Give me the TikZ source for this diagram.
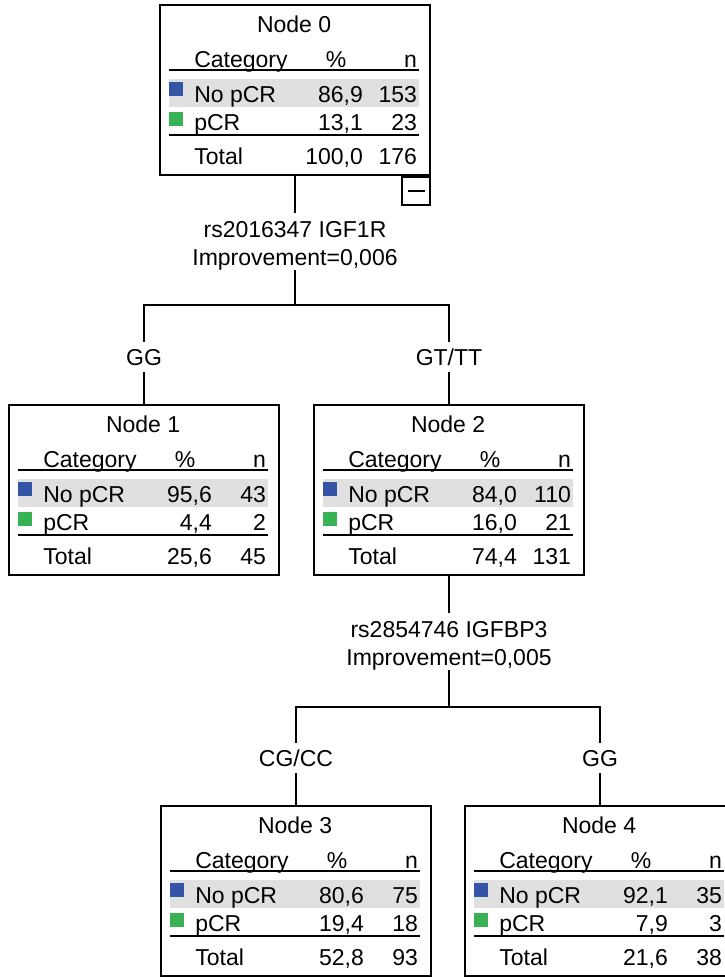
\documentclass[tikz,border=0pt]{standalone}
\usepackage{fontspec}
\setmainfont{Liberation Sans}
\usetikzlibrary{positioning}
\definecolor{catblue}{RGB}{52,84,168}
\definecolor{catgreen}{RGB}{56,178,84}
\definecolor{rowgray}{RGB}{224,224,224}
\tikzset{
  treebox/.style={draw,line width=1.8pt,minimum width=270pt,minimum height=170pt,inner sep=0pt},
  cell/.style={inner sep=0pt,text height=16.5pt,text depth=0pt},
  rule/.style={line width=1.6pt},
  link/.style={line width=1.8pt},
  splitlabel/.style={align=center,inner sep=0pt},
  branch/.style={inner xsep=0pt,inner ysep=7pt,text height=16.5pt,text depth=0pt}
}
\newcommand{\cattable}[8]{%
  \begin{scope}[shift={(#1.north west)}]
    \fill[rowgray] (10,75) rectangle (260,103);
    \fill[catblue] (10,78) rectangle (24,92);
    \fill[catgreen] (10,108) rectangle (24,122);
    \path[draw,rule] (10,66) -- (260,66) (10,131) -- (260,131);
    \node[cell] (#1-title) at (135,20) {#2};
    \node[cell,anchor=west] (#1-cat) at (35,55) {Category};
    \node[cell] (#1-pct) at (177,55) {\%};
    \node[cell,anchor=east] (#1-n) at (258,55) {n};
    \node[cell,anchor=west] (#1-no) at (35,90) {No pCR};
    \node[cell,anchor=east] (#1-nop) at (204,90) {#3};
    \node[cell,anchor=east] (#1-non) at (258,90) {#4};
    \node[cell,anchor=west] (#1-yes) at (35,118) {pCR};
    \node[cell,anchor=east] (#1-yesp) at (204,118) {#5};
    \node[cell,anchor=east] (#1-yesn) at (258,118) {#6};
    \node[cell,anchor=west] (#1-tot) at (35,152) {Total};
    \node[cell,anchor=east] (#1-totp) at (204,152) {#7};
    \node[cell,anchor=east] (#1-totn) at (258,152) {#8};
  \end{scope}}

\begin{document}
\begin{tikzpicture}[x=1pt,y=-1pt,font=\fontsize{23}{27.5}\selectfont]
  \useasboundingbox (0,0) rectangle (725,977);
  % tree nodes
  \node[treebox] (n0) at (295,90) {};
  \node[treebox] (n1) at (144,490) {};
  \node[treebox] (n2) at (449,490) {};
  \node[treebox] (n3) at (296,891) {};
  \node[treebox] (n4) at (600,891) {};
  \cattable{n0}{Node 0}{86,9}{153}{13,1}{23}{100,0}{176}
  \cattable{n1}{Node 1}{95,6}{43}{4,4}{2}{25,6}{45}
  \cattable{n2}{Node 2}{84,0}{110}{16,0}{21}{74,4}{131}
  \cattable{n3}{Node 3}{80,6}{75}{19,4}{18}{52,8}{93}
  \cattable{n4}{Node 4}{92,1}{35}{7,9}{3}{21,6}{38}
  \node[draw,line width=1.8pt,minimum size=28pt,inner sep=0pt,anchor=north east]
    (n0-tog) at (n0.south east) {};
  \draw[rule] ([xshift=-8.5pt]n0-tog.center) -- ([xshift=8.5pt]n0-tog.center);
  % splits
  \node[splitlabel] (s0) at (295,246) {rs2016347 IGF1R\\Improvement=0,006};
  \node[splitlabel] (s1) at (449,646) {rs2854746 IGFBP3\\Improvement=0,005};
  \coordinate (j0) at (295,305);
  \coordinate (j1) at (449,707);
  \node[branch] (g1) at (144,357) {GG};
  \node[branch] (g2) at (449,357) {GT/TT};
  \node[branch] (c1) at (296,758) {CG/CC};
  \node[branch] (c2) at (600,758) {GG};
  % --
  \draw[link] (n0.south) -- ([yshift=9pt]s0.north);
  \draw[link] (s0.south) -- (j0) -| (g1.north);
  \draw[link] (j0) -| (g2.north);
  \draw[link] (g1.south) -- (n1.north);
  \draw[link] (g2.south) -- (n2.north);
  \draw[link] (n2.south) -- ([yshift=9pt]s1.north);
  \draw[link] (s1.south) -- (j1) -| (c1.north);
  \draw[link] (j1) -| (c2.north);
  \draw[link] (c1.south) -- (n3.north);
  \draw[link] (c2.south) -- (n4.north);
\end{tikzpicture}
\end{document}
